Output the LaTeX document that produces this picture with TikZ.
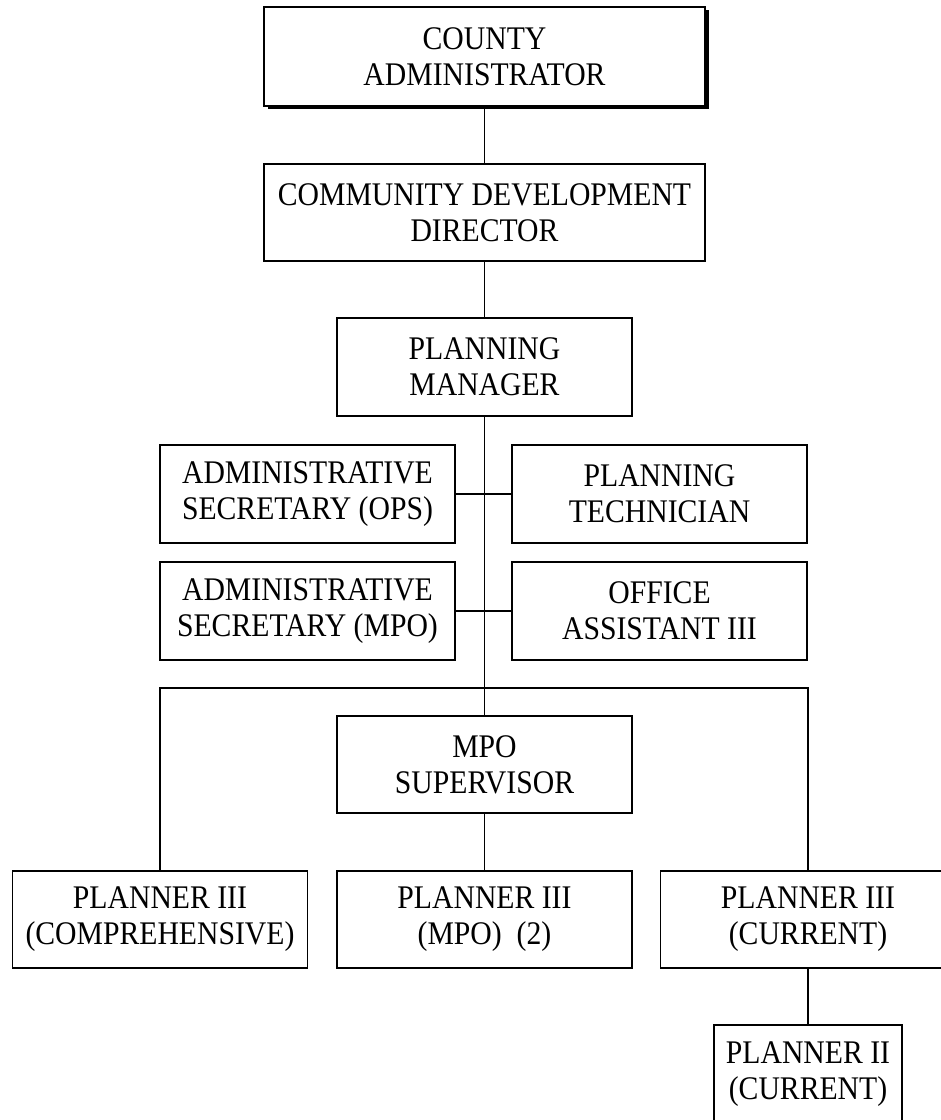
\documentclass[tikz,border=0pt]{standalone}
\usepackage{fontspec}
\setmainfont{Liberation Serif}[FakeStretch=0.9]
\usetikzlibrary{shadows}

\tikzset{
  orgbox/.style={draw, line width=1.6pt, fill=white, align=center,
    inner sep=0pt, minimum height=98pt,
    font=\fontsize{33}{36}\selectfont},
  wide/.style={orgbox, minimum width=441pt},
  std/.style={orgbox, minimum width=295pt},
  narrow/.style={orgbox, minimum width=188pt},
  link/.style={line width=1.8pt}
}

\begin{document}
\begin{tikzpicture}[x=1pt, y=-1pt]
  \useasboundingbox (0,0) rectangle (941,1120);
  \clip (0,0) rectangle (941,1120);

  % top of the chain
  \node[wide, minimum height=99pt,
        drop shadow={shadow xshift=4pt, shadow yshift=-3pt, fill=black, opacity=1}]
        (ca) at (484.5,56.5) {COUNTY\\ADMINISTRATOR};
  \node[wide, minimum height=97pt] (cdd) at (484.5,212.5) {COMMUNITY DEVELOPMENT\\DIRECTOR};
  \node[std] (pm) at (484.5,367) {PLANNING\\MANAGER};

  % staff attached to the manager's line
  \node[std] (aso) at (307.5,494) {ADMINISTRATIVE\\SECRETARY (OPS)};
  \node[std] (pt)  at (659.5,494) {PLANNING\\TECHNICIAN};
  \node[std] (asm) at (307.5,611) {ADMINISTRATIVE\\SECRETARY (MPO)};
  \node[std] (oa)  at (659.5,611) {OFFICE\\ASSISTANT III};

  % planning divisions
  \node[std, minimum height=97pt] (mpos) at (484.5,764.5) {MPO\\SUPERVISOR};
  \node[std, minimum height=97pt] (p3c)  at (160,919.5) {PLANNER III\\(COMPREHENSIVE)};
  \node[std, minimum height=97pt] (p3m)  at (484.5,919.5) {PLANNER III\\(MPO)\ \ (2)};
  \node[std, minimum height=97pt] (p3r)  at (808,919.5) {PLANNER III\\(CURRENT)};
  \node[narrow] (p2) at (808,1074) {PLANNER II\\(CURRENT)};

  % connectors
  \coordinate (split) at (484.5,688);
  \draw[link] (ca.south) -- (cdd.north);
  \draw[link] (cdd.south) -- (pm.north);
  \draw[link] (pm.south) -- (mpos.north);
  \draw[link] (aso.east) -- (pt.west);
  \draw[link] (asm.east) -- (oa.west);
  \draw[link] (p3c.north) |- (split) -| (p3r.north);
  \draw[link] (mpos.south) -- (p3m.north);
  \draw[link] (p3r.south) -- (p2.north);
\end{tikzpicture}
\end{document}
